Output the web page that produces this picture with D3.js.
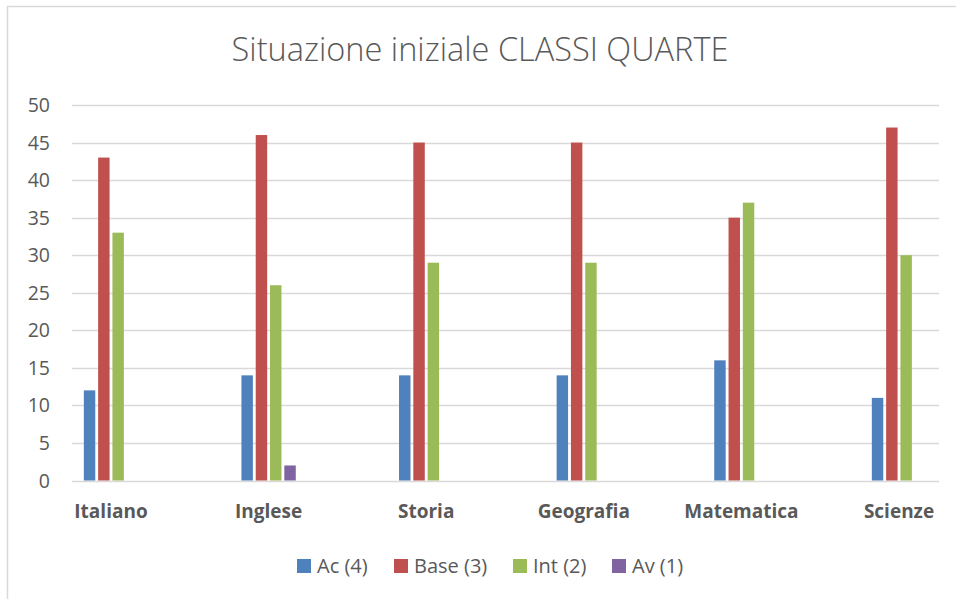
<!DOCTYPE html>
<html>
<head>
<meta charset="utf-8">
<script src="https://cdn.jsdelivr.net/npm/d3@7"></script>
<style>
  body { margin: 0; background: #fff; }
  svg text { font-family: "Open Sans", "Liberation Sans", sans-serif; fill: #595959; }
</style>
</head>
<body>
<svg id="chart" width="956" height="599"></svg>
<script>
var subjects = ["Italiano", "Inglese", "Storia", "Geografia", "Matematica", "Scienze"];
var seriesNames = ["Ac (4)", "Base (3)", "Int (2)", "Av (1)"];
var seriesColors = ["#4f81bd", "#c0504d", "#9bbb59", "#8064a2"];
var ac = [12, 14, 14, 14, 16, 11];
var base = [43, 46, 45, 45, 35, 47];
var inter = [33, 26, 29, 29, 37, 30];
var av = [0, 2, 0, 0, 0, 0];
var yTicks = [0, 5, 10, 15, 20, 25, 30, 35, 40, 45, 50];

var values = [ac, base, inter, av];

var svg = d3.select("#chart");

// chart frame (only top and left edges are visible)
svg.append("path")
    .attr("d", "M7.5,599 V6.5 H956")
    .attr("fill", "none")
    .attr("stroke", "#d9d9d9")
    .attr("stroke-width", 1.5);

svg.append("text")
    .attr("x", 480)
    .attr("y", 61)
    .attr("text-anchor", "middle")
    .style("font-size", "32.5px")
    .style("font-weight", 300)
    .text("Situazione iniziale CLASSI QUARTE");

var left = 72, right = 939;

var y = d3.scaleLinear()
    .domain([0, 50])
    .range([480.5, 105]);

var x = d3.scalePoint()
    .domain(subjects)
    .range([111, 899]);

var xs = d3.scaleBand()
    .domain(seriesNames)
    .range([-28.6, 28.6])
    .paddingInner(0.2)
    .paddingOuter(0.1);

// gridlines
svg.append("g")
    .selectAll("line")
    .data(yTicks)
    .enter().append("line")
        .attr("x1", left)
        .attr("x2", right)
        .attr("y1", function(d) { return Math.round(y(d)) + 0.5; })
        .attr("y2", function(d) { return Math.round(y(d)) + 0.5; })
        .attr("stroke", "#d9d9d9")
        .attr("stroke-width", 1.5);

svg.append("g")
    .selectAll("text")
    .data(yTicks)
    .enter().append("text")
        .attr("x", 50)
        .attr("y", function(d) { return y(d); })
        .attr("dy", "0.36em")
        .attr("text-anchor", "end")
        .style("font-size", "19.5px")
        .text(function(d) { return d; });

// bars
seriesNames.forEach(function(name, s) {
    svg.append("g")
        .selectAll("rect")
        .data(values[s])
        .enter().append("rect")
            .attr("x", function(d, i) { return x(subjects[i]) + xs(name); })
            .attr("width", xs.bandwidth())
            .attr("y", function(d) { return y(d); })
            .attr("height", function(d) { return y(0) - y(d); })
            .attr("fill", seriesColors[s]);
});

svg.append("g")
    .selectAll("text")
    .data(subjects)
    .enter().append("text")
        .attr("x", function(d) { return x(d); })
        .attr("y", 518)
        .attr("text-anchor", "middle")
        .style("font-size", "19px")
        .style("font-weight", "bold")
        .text(function(d) { return d; });

// legend
var legendX = [297, 394, 513, 612];
var legend = svg.append("g")
    .selectAll("g")
    .data(seriesNames)
    .enter().append("g")
        .attr("transform", function(d, i) { return "translate(" + legendX[i] + ",559)"; });

legend.append("rect")
    .attr("width", 14)
    .attr("height", 14)
    .attr("fill", function(d, i) { return seriesColors[i]; });

legend.append("text")
    .attr("x", 20)
    .attr("y", 7)
    .attr("dy", "0.36em")
    .style("font-size", "20px")
    .text(function(d) { return d; });
</script>
</body>
</html>
